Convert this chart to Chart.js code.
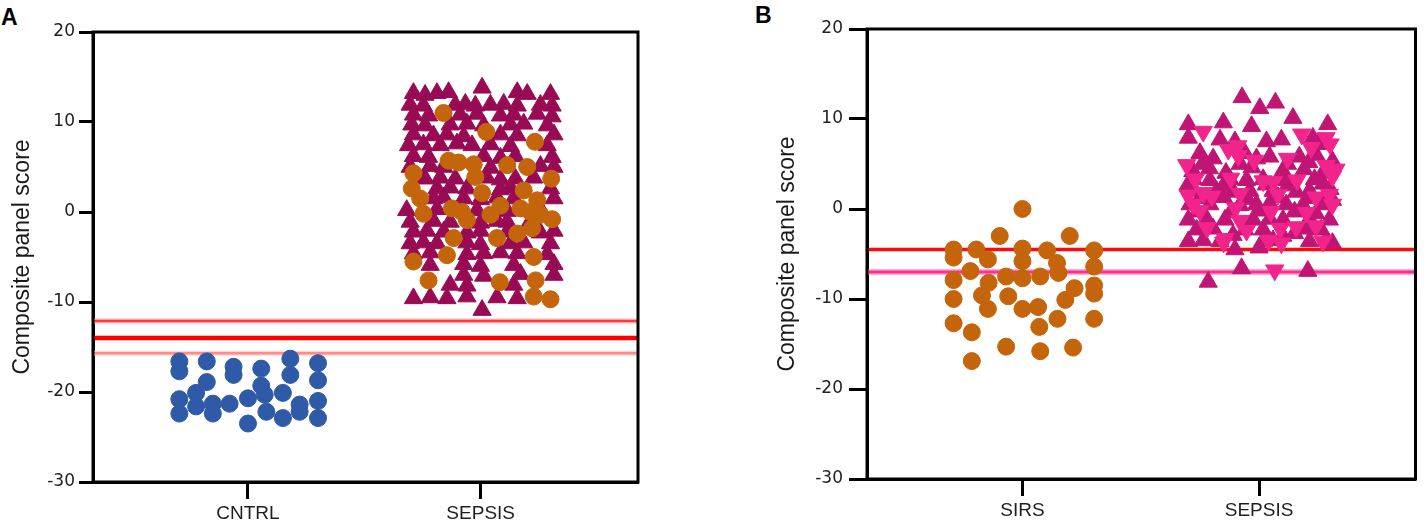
<!DOCTYPE html>
<html>
<head>
<meta charset="utf-8">
<script src="https://cdn.jsdelivr.net/npm/chart.js@4.4.1/dist/chart.umd.min.js"></script>
<style>
  body { margin: 0; background: #fff; width: 1427px; height: 530px; overflow: hidden; position: relative; font-family: "Liberation Sans", Arial, sans-serif; }
  .panel-label { position: absolute; font-weight: bold; font-size: 23px; line-height: 1; color: #000; }
  canvas { position: absolute; top: 0; }
</style>
</head>
<body>
<div class="panel-label" style="left:1px;top:6px">A</div>
<div class="panel-label" style="left:755px;top:4px">B</div>
<canvas id="chartA" width="660" height="530" style="left:0"></canvas>
<canvas id="chartB" width="727" height="530" style="left:700px"></canvas>
<script>
// groups on the x axis (tick 1 and tick 2)
const groupsA = ['CNTRL', 'SEPSIS']
const groupsB = ['SIRS', 'SEPSIS']

// cut-off lines (composite panel score)
const cutoffsA = [-12.1, -14.0, -15.7]
const cutoffsB = [-4.5, -7.0]

// points are [jitter around group, composite score]
const cntrlA = [
  [-0.295, -16.6], [-0.295, -17.7], [-0.295, -20.8], [-0.295, -22.4],
  [-0.223, -20.1], [-0.223, -21.6], [-0.177, -16.6], [-0.177, -18.9],
  [-0.151, -21.3], [-0.151, -22.4], [-0.079, -21.3], [-0.062, -17.2],
  [-0.062, -18.1], [0.0, -20.7], [0.0, -23.5], [0.057, -17.4],
  [0.057, -19.3], [0.072, -20.3], [0.079, -22.2], [0.15, -20.1],
  [0.15, -22.9], [0.182, -16.3], [0.182, -18.1], [0.222, -21.4],
  [0.222, -22.2], [0.301, -16.8], [0.301, -18.7], [0.301, -21.0],
  [0.301, -22.9]
]

const sepsisACircles = [
  [-0.160, 11.0], [0.024, 8.9], [0.233, 7.8], [-0.138, 5.7], [-0.095, 5.5],
  [-0.030, 5.3], [-0.023, 3.9], [0.114, 5.2], [0.200, 5.0], [-0.289, 4.3],
  [0.303, 3.7], [-0.296, 2.6], [0.006, 2.1], [0.185, 2.4], [-0.260, 1.5],
  [0.243, 1.3], [-0.124, 0.4], [-0.080, 0.0], [0.085, 0.7], [0.042, -0.3],
  [0.171, 0.4], [0.214, 0.0], [-0.246, -0.2], [-0.059, -0.9], [0.257, -0.3],
  [0.307, -0.8], [0.221, -1.8], [0.070, -2.9], [-0.116, -2.9], [0.157, -2.4],
  [-0.145, -4.8], [0.228, -5.0], [-0.289, -5.5], [-0.224, -7.6], [0.082, -7.8],
  [0.236, -7.6], [0.228, -9.4], [0.300, -9.7]
]

const sepsisATriangles = [
  [-0.289, 13.2], [-0.239, 13.0], [-0.188, 13.2], [-0.138, 13.3], [0.006, 13.8], [0.157, 13.3], [0.200, 13.1], [0.300, 13.1],
  [-0.303, 11.9], [-0.246, 11.8], [-0.109, 11.9], [-0.066, 12.0], [-0.023, 11.8], [0.042, 11.9], [0.099, 12.0], [0.157, 11.8], [0.257, 11.9], [0.307, 11.8],
  [-0.289, 10.8], [-0.224, 10.7], [-0.088, 10.8], [-0.016, 10.9], [0.085, 10.7], [0.142, 10.8], [0.243, 10.9], [0.307, 10.6],
  [-0.296, 9.7], [-0.239, 9.6], [-0.131, 9.7], [-0.059, 9.8], [0.013, 9.6], [0.128, 9.7], [0.185, 9.8], [0.286, 9.6],
  [-0.289, 8.6], [-0.203, 8.5], [-0.145, 8.6], [-0.073, 8.4], [0.085, 8.6], [0.157, 8.5], [0.315, 8.6],
  [-0.310, 7.4], [-0.246, 7.5], [-0.174, 7.4], [-0.102, 7.6], [-0.037, 7.4], [0.042, 7.5], [0.128, 7.3], [0.286, 7.4],
  [-0.289, 6.2], [-0.224, 6.1], [0.013, 6.2], [0.085, 6.0], [0.149, 6.2], [0.307, 6.1],
  [-0.303, 5.0], [-0.217, 5.1], [-0.159, 5.0], [0.042, 4.9], [0.257, 5.1], [0.315, 5.0],
  [-0.239, 3.7], [-0.174, 3.8], [-0.109, 3.7], [0.027, 3.8], [0.085, 3.6], [0.149, 3.7], [0.228, 3.8],
  [-0.188, 2.6], [-0.131, 2.7], [-0.059, 2.6], [0.085, 2.5], [0.128, 2.7], [0.300, 2.6],
  [-0.203, 1.5], [-0.159, 1.6], [-0.073, 1.5], [-0.001, 1.4], [0.070, 1.6], [0.142, 1.5], [0.315, 1.5],
  [-0.318, 0.2], [-0.188, 0.3], [-0.016, 0.2], [0.114, 0.1], [0.257, 0.3],
  [-0.303, -1.1], [-0.203, -1.0], [-0.131, -1.1], [-0.001, -1.2], [0.070, -1.0], [0.114, -1.1], [0.214, -1.0],
  [-0.289, -2.2], [-0.231, -2.1], [-0.159, -2.2], [-0.059, -2.3], [-0.001, -2.1], [0.114, -2.2], [0.257, -2.3], [0.315, -2.1],
  [-0.303, -3.5], [-0.246, -3.4], [-0.188, -3.5], [-0.059, -3.4], [-0.001, -3.6], [0.128, -3.5], [0.185, -3.4], [0.300, -3.5],
  [-0.289, -4.6], [-0.217, -4.5], [-0.059, -4.7], [0.013, -4.6], [0.085, -4.5], [0.157, -4.6], [0.286, -4.7],
  [-0.217, -5.9], [-0.073, -5.8], [-0.001, -6.0], [0.142, -5.9], [0.315, -5.8],
  [-0.073, -7.0], [0.013, -7.1], [0.171, -6.9], [0.315, -7.0],
  [-0.131, -8.1], [-0.059, -8.2], [0.142, -8.1],
  [-0.289, -9.6], [-0.217, -9.5], [-0.145, -9.6], [-0.059, -9.4], [0.070, -9.5], [0.157, -9.6],
  [0.006, -10.9]
]

const sirsB = [
  [-0.291, -4.5], [-0.291, -5.4], [-0.291, -7.9], [-0.291, -10.0], [-0.291, -12.7],
  [-0.220, -6.9], [-0.214, -13.7], [-0.214, -16.9], [-0.195, -4.5], [-0.146, -5.6],
  [-0.143, -8.2], [-0.171, -9.6], [-0.146, -11.1], [-0.096, -3.0], [-0.069, -7.5],
  [-0.060, -9.7], [-0.069, -15.3], [0.0, 0.0], [0.0, -4.4], [0.0, -5.8],
  [0.0, -7.7], [0.0, -11.1], [0.066, -10.9], [0.075, -7.5], [0.071, -13.1],
  [0.075, -15.8], [0.104, -4.6], [0.146, -6.0], [0.152, -7.1], [0.148, -12.2],
  [0.181, -10.1], [0.200, -3.0], [0.220, -8.8], [0.214, -15.4], [0.303, -4.6],
  [0.303, -6.4], [0.303, -8.5], [0.303, -9.4], [0.303, -12.2]
]

const sepsisBUp = [
  [-0.072, 12.4], [0.003, 11.2], [0.069, 11.8], [-0.151, 9.6], [-0.032, 9.2], [0.143, 10.1], [0.290, 9.4], [-0.299, 9.4],
  [-0.299, 7.9], [-0.165, 7.7], [-0.102, 7.5], [0.031, 7.5], [0.094, 7.7], [0.227, 7.9], [0.250, 7.2],
  [-0.250, 6.2], [-0.194, 5.6], [-0.060, 6.2], [-0.011, 5.6], [0.045, 5.8], [0.170, 5.8], [0.241, 6.0], [0.310, 5.3],
  [-0.240, 5.0], [-0.080, 5.0], [0.120, 5.0], [0.210, 5.2],
  [-0.280, 4.2], [-0.210, 4.5], [-0.140, 4.0], [-0.030, 4.6], [0.100, 4.2], [0.190, 4.4], [0.270, 4.0],
  [-0.278, 3.3], [-0.208, 3.2], [-0.123, 3.3], [-0.053, 3.2], [0.017, 3.3], [0.101, 3.2], [0.234, 3.3],
  [-0.300, 2.7], [-0.150, 2.6], [0.030, 2.7], [0.120, 2.6], [0.270, 2.8],
  [-0.271, 2.0], [-0.180, 2.0], [-0.109, 1.9], [-0.039, 2.0], [0.059, 2.0], [0.157, 1.9], [0.213, 2.0], [0.300, 2.2],
  [-0.250, 1.2], [-0.150, 1.3], [-0.050, 1.1], [0.080, 1.3], [0.220, 1.2], [0.310, 1.0],
  [-0.292, 0.5], [-0.208, 0.5], [-0.081, 0.4], [-0.011, 0.5], [0.045, 0.6], [0.115, 0.5], [0.185, 0.4], [0.269, 0.5],
  [-0.260, -0.3], [-0.120, -0.4], [0.000, -0.2], [0.150, -0.3], [0.240, -0.5],
  [-0.299, -1.2], [-0.222, -1.1], [-0.144, -1.2], [-0.025, -1.2], [0.045, -1.1], [0.101, -1.2], [0.213, -1.1], [0.297, -1.2],
  [-0.264, -2.3], [-0.194, -2.2], [-0.060, -2.3], [0.017, -2.3], [0.199, -2.2], [0.262, -2.3],
  [-0.110, -2.9], [0.100, -3.0], [0.150, -2.7],
  [-0.299, -3.6], [-0.236, -3.5], [-0.165, -3.6], [0.017, -3.6], [0.059, -3.5], [0.213, -3.6], [0.283, -3.5], [0.310, -3.8],
  [-0.102, -4.5], [0.000, -4.3], [-0.074, -6.6], [-0.215, -8.1], [0.206, -6.9]
]

const sepsisBDown = [
  [-0.236, 8.6], [0.180, 8.3], [0.283, 7.9], [0.300, 7.2], [-0.090, 7.0],
  [-0.088, 5.9], [-0.130, 6.6], [0.120, 5.6], [0.220, 6.8],
  [-0.306, 4.9], [-0.020, 5.4], [0.283, 4.8], [0.325, 4.4],
  [-0.270, 3.3], [-0.120, 3.4], [0.017, 3.1], [0.060, 3.0], [0.160, 3.2], [0.310, 3.6],
  [-0.236, 1.8], [-0.300, 1.5], [-0.200, 1.4], [-0.080, 1.7], [0.080, 1.6], [0.240, 1.3], [0.297, 1.6],
  [-0.278, 0.5], [-0.100, 0.1], [0.050, -0.3], [0.200, -0.4], [0.310, 0.5], [-0.250, -0.2],
  [-0.081, -1.3], [0.157, -2.0], [-0.053, -2.4], [-0.220, -2.1], [0.090, -2.2], [0.240, -1.9],
  [-0.144, -3.3], [-0.150, -3.7], [0.094, -3.8], [0.270, -3.6], [0.040, -3.5],
  [0.066, -6.8]
]

Chart.defaults.font.family = '"Liberation Sans", Arial, sans-serif'

const framePlugin = {
  id: 'frame',
  afterDatasetsDraw(chart) {
    const ctx = chart.ctx
    const a = chart.chartArea
    ctx.save()
    ctx.strokeStyle = '#000'
    ctx.lineWidth = 3
    ctx.strokeRect(a.left, a.top, a.right - a.left, a.bottom - a.top)
    ctx.restore()
  }
}

function toPoints(pts, group){
  return pts.map(p => ({x: group + p[0], y: p[1]}))
}

function markers(pts, group, style, color, radius, rotation){
  return {
    data: toPoints(pts, group),
    pointStyle: style,
    pointRadius: radius,
    pointRotation: rotation || 0,
    backgroundColor: color,
    borderColor: color,
    borderWidth: 1,
    order: 1
  }
}

function cutLine(value, xMin, xMax, color, width){
  return {
    data: [{x: xMin, y: value}, {x: xMax, y: value}],
    showLine: true,
    pointRadius: 0,
    borderColor: color,
    borderWidth: width,
    order: 5
  }
}

function makePanel(id, groups, datasets, L){
  return new Chart(document.getElementById(id).getContext('2d'), {
    type: 'scatter',
    data: {datasets: datasets},
    options: {
      responsive: false,
      animation: false,
      events: [],
      layout: {padding: {left: L.padLeft, top: L.padTop, right: L.padRight, bottom: 0}},
      plugins: {legend: {display: false}, tooltip: {enabled: false}},
      scales: {
        x: {
          type: 'linear',
          min: L.xMin,
          max: L.xMax,
          afterBuildTicks: (scale) => { scale.ticks = [{value: 1}, {value: 2}] },
          afterFit: (scale) => { scale.height = L.xHeight },
          ticks: {
            callback: (v) => groups[Math.round(v) - 1],
            color: '#1e1e1e',
            font: {size: 19},
            padding: 3,
            autoSkip: false,
            maxRotation: 0
          },
          grid: {drawOnChartArea: false, drawTicks: true, tickLength: 17, tickWidth: 3, tickColor: '#000'},
          border: {display: true, color: '#000', width: 3}
        },
        y: {
          type: 'linear',
          min: -30,
          max: 20,
          afterFit: (scale) => { scale.width = L.yWidth },
          ticks: {stepSize: 10, color: '#222', font: {family: '"DejaVu Sans", sans-serif', size: 17}, padding: L.tickPad},
          grid: {drawOnChartArea: false, drawTicks: true, tickLength: L.tickLen, tickWidth: 3, tickColor: '#000'},
          border: {display: true, color: '#000', width: 3},
          title: {
            display: true,
            text: 'Composite panel score',
            color: '#1a1a1a',
            font: {size: 23},
            padding: {top: 9, bottom: 0}
          }
        }
      }
    },
    plugins: [framePlugin]
  })
}

const layoutA = {padLeft: 0, padTop: 32, padRight: 22, xHeight: 48, yWidth: 93, tickLen: 14, tickPad: 4, xMin: 0.334, xMax: 2.676}
const layoutB = {padLeft: 65, padTop: 29, padRight: 9, xHeight: 51, yWidth: 102, tickLen: 18, tickPad: 6, xMin: 0.343, xMax: 2.661}

makePanel('chartA', groupsA, [
  markers(sepsisACircles, 2, 'circle', '#c4650b', 8.5),
  markers(sepsisATriangles, 2, 'triangle', '#990a55', 10.5),
  markers(cntrlA, 1, 'circle', '#2e5aa7', 8.5),
  cutLine(cutoffsA[1], layoutA.xMin, layoutA.xMax, '#ff0000', 4.5),
  cutLine(cutoffsA[0], layoutA.xMin, layoutA.xMax, '#ff3a3a', 2.5),
  cutLine(cutoffsA[2], layoutA.xMin, layoutA.xMax, '#ff8a8a', 2.5),
  cutLine(cutoffsA[0], layoutA.xMin, layoutA.xMax, '#ffc4c4', 5),
  cutLine(cutoffsA[2], layoutA.xMin, layoutA.xMax, '#ffd6d6', 5)
], layoutA)

makePanel('chartB', groupsB, [
  markers(sepsisBDown, 2, 'triangle', '#f2248c', 10.5, 180),
  markers(sepsisBUp, 2, 'triangle', '#c11575', 10.5),
  markers(sirsB, 1, 'circle', '#c4650b', 8.5),
  cutLine(cutoffsB[0], layoutB.xMin, layoutB.xMax, '#ff0a0a', 3.5),
  cutLine(cutoffsB[1], layoutB.xMin, layoutB.xMax, '#ff2f92', 3),
  cutLine(cutoffsB[1], layoutB.xMin, layoutB.xMax, '#ffb0d4', 6)
], layoutB)
</script>
</body>
</html>
